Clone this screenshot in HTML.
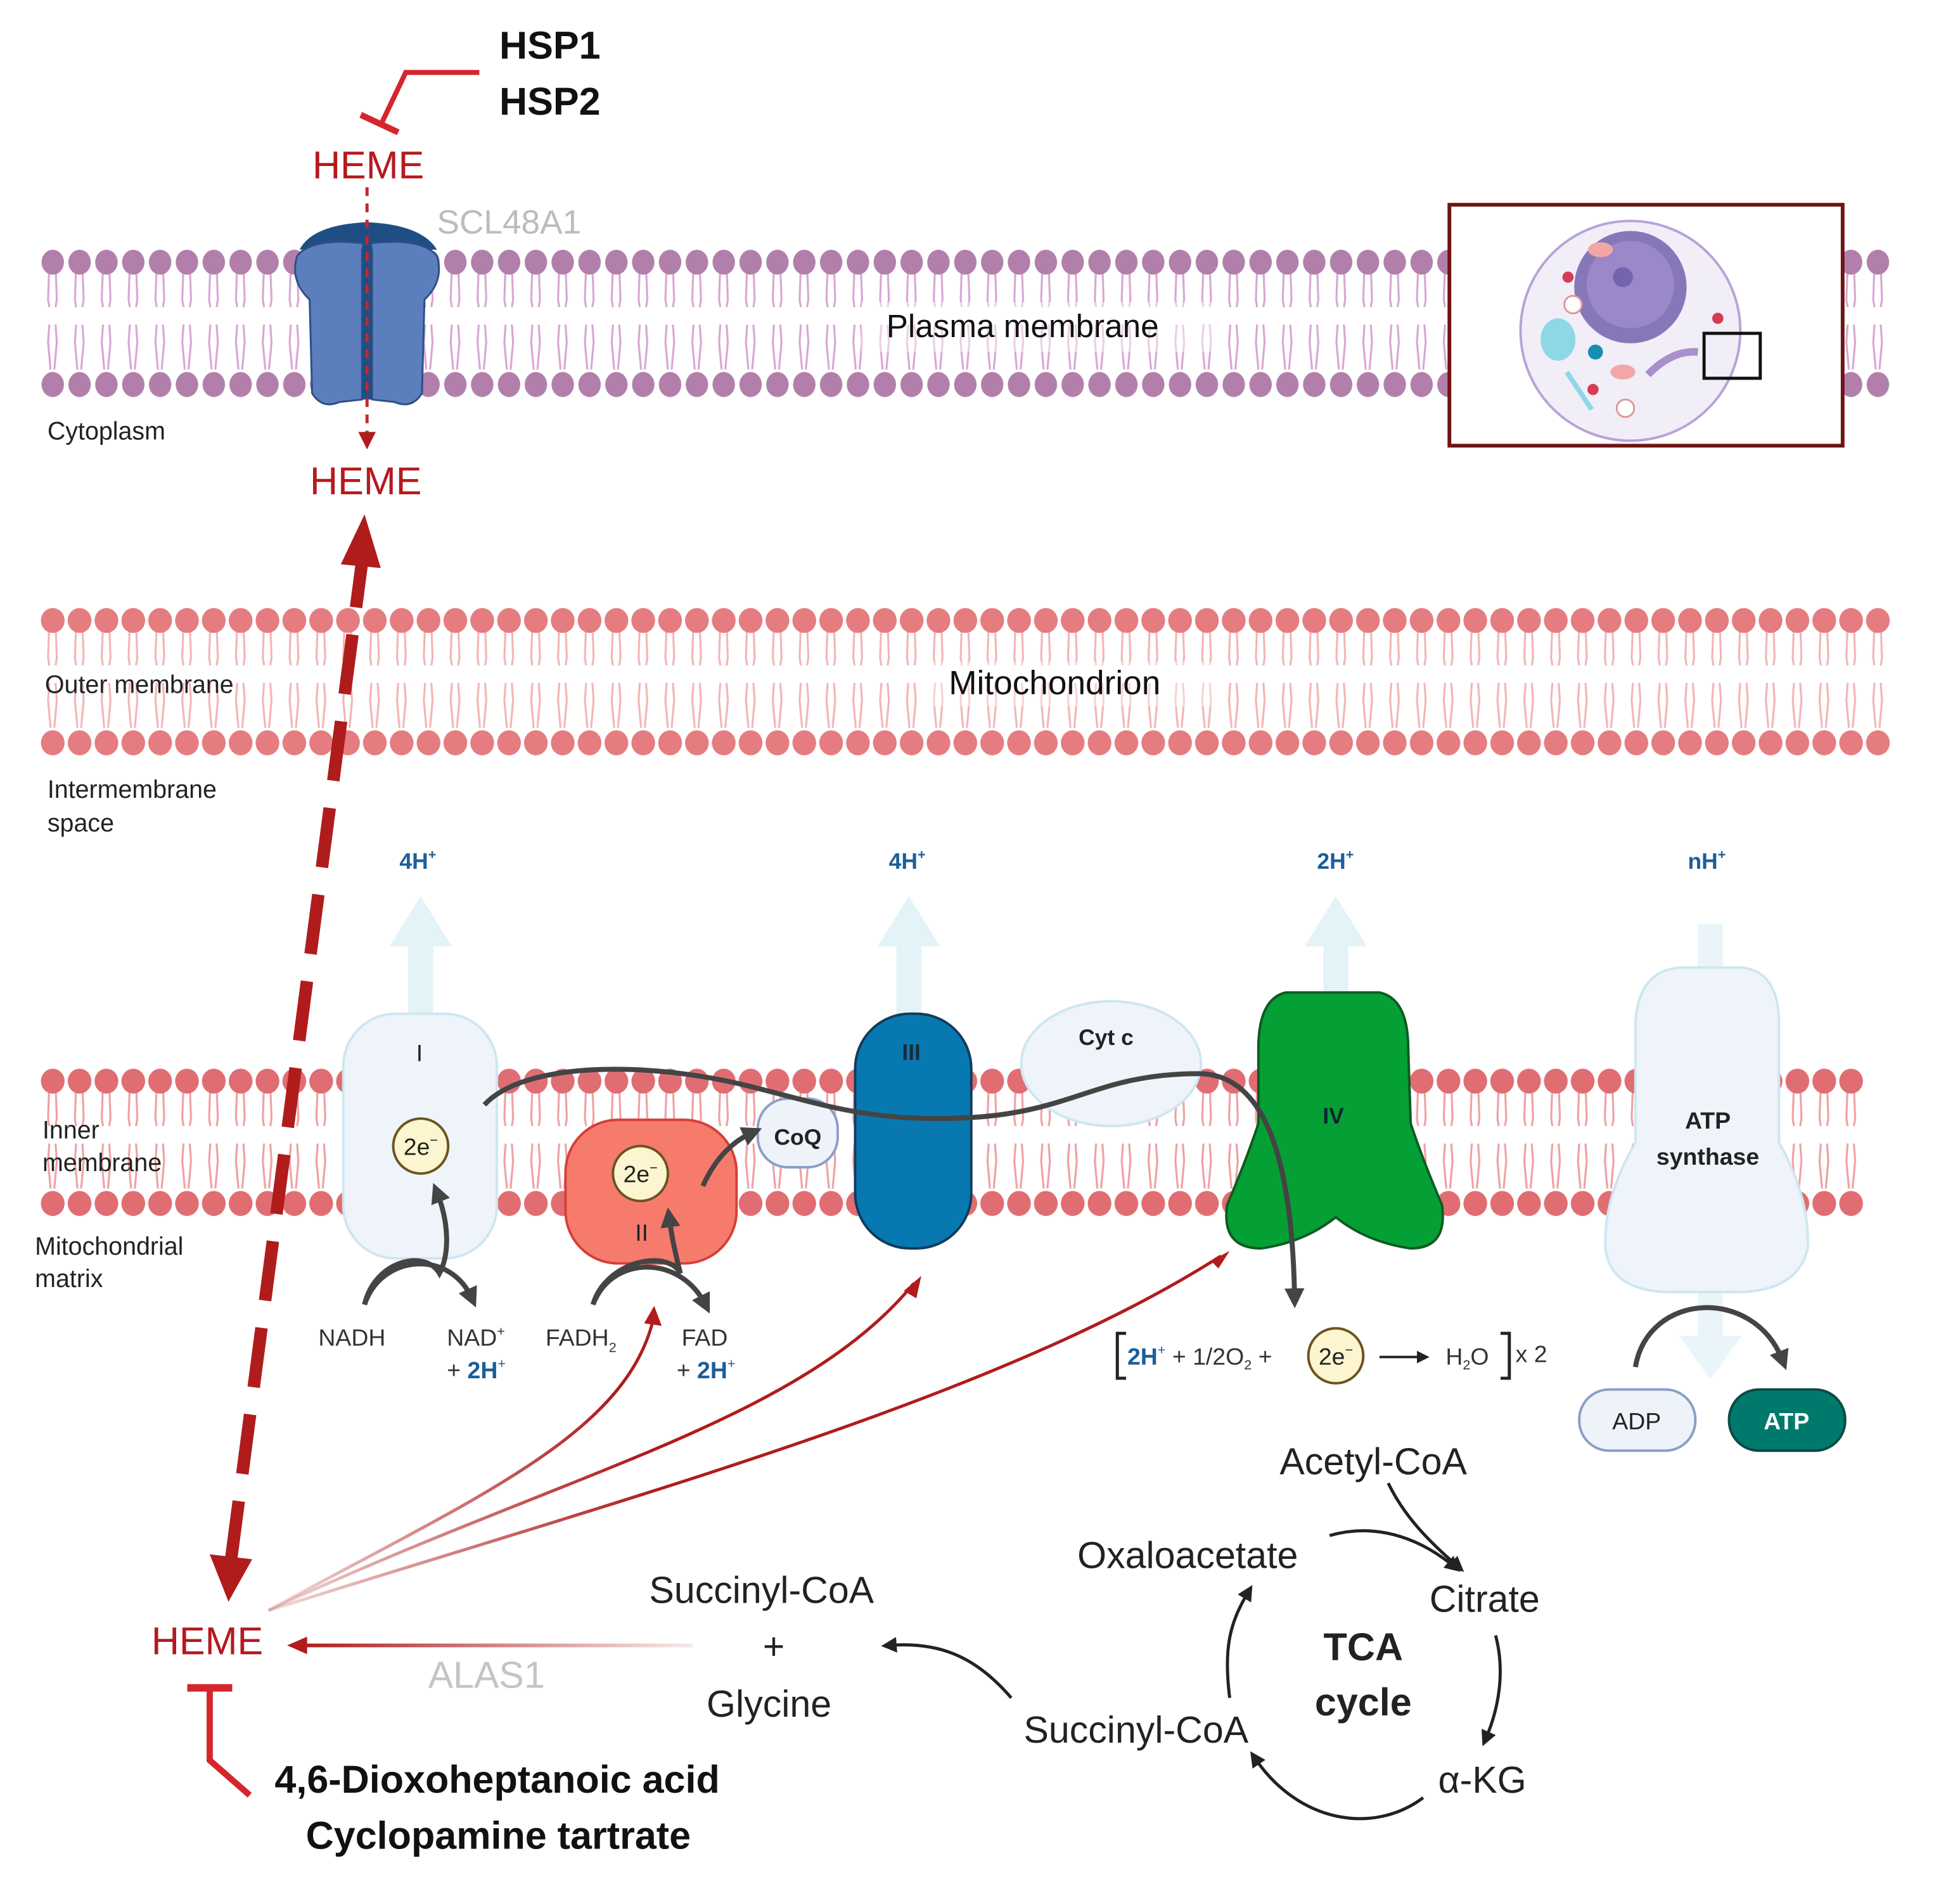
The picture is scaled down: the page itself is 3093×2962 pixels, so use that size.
<!DOCTYPE html>
<html><head><meta charset="utf-8"><style>
html,body{margin:0;padding:0;background:#fff}
svg{display:block}
text{font-family:"Liberation Sans",sans-serif}
</style></head><body>
<svg width="3093" height="2962" viewBox="0 0 1570 1503.5" xmlns="http://www.w3.org/2000/svg">
<defs>
<pattern id="pm" x="31.5" y="198" width="21.5" height="124" patternUnits="userSpaceOnUse">
 <g stroke="#d9a6d2" stroke-width="1.6" fill="none">
  <path d="M8 14 L7 42 L8 48 M13 14 L14 42 L13 48"/>
  <path d="M8 62 L7 76 L9 98 M13 62 L14 76 L12 98"/>
 </g>
 <ellipse cx="10.75" cy="12" rx="9" ry="10" fill="#b27fab"/>
 <ellipse cx="10.75" cy="110" rx="9" ry="10" fill="#b27fab"/>
</pattern>
<pattern id="om" x="31.5" y="485" width="21.5" height="124" patternUnits="userSpaceOnUse">
 <g stroke="#f3b5b5" stroke-width="1.6" fill="none">
  <path d="M8 14 L7 42 L8 48 M13 14 L14 42 L13 48"/>
  <path d="M8 62 L7 76 L9 98 M13 62 L14 76 L12 98"/>
 </g>
 <ellipse cx="10.75" cy="12" rx="9.5" ry="10" fill="#e57c80"/>
 <ellipse cx="10.75" cy="110" rx="9.5" ry="10" fill="#e57c80"/>
</pattern>
<pattern id="im" x="31.5" y="854" width="21.5" height="124" patternUnits="userSpaceOnUse">
 <g stroke="#f0a0a3" stroke-width="1.6" fill="none">
  <path d="M8 14 L7 42 L8 48 M13 14 L14 42 L13 48"/>
  <path d="M8 62 L7 76 L9 98 M13 62 L14 76 L12 98"/>
 </g>
 <ellipse cx="10.75" cy="12" rx="9.5" ry="10" fill="#e06d72"/>
 <ellipse cx="10.75" cy="110" rx="9.5" ry="10" fill="#e06d72"/>
</pattern>
<marker id="ag" viewBox="0 0 10 10" refX="5" refY="5" markerWidth="4" markerHeight="4" orient="auto"><path d="M0 0 L10 5 L0 10 Z" fill="#444"/></marker>
<marker id="ak" viewBox="0 0 10 10" refX="5" refY="5" markerWidth="5" markerHeight="5" orient="auto"><path d="M0 0 L10 5 L0 10 Z" fill="#222"/></marker>
<linearGradient id="fadeR" x1="242" y1="0" x2="555" y2="0" gradientUnits="userSpaceOnUse"><stop offset="0" stop-color="#b01c1c"/><stop offset="1" stop-color="#b01c1c" stop-opacity="0.1"/></linearGradient>
<linearGradient id="fadeD" x1="215" y1="1290" x2="500" y2="1150" gradientUnits="userSpaceOnUse"><stop offset="0" stop-color="#b01c1c" stop-opacity="0.15"/><stop offset="1" stop-color="#b01c1c"/></linearGradient>
</defs>

<!-- membranes -->
<rect x="31.5" y="198" width="1483" height="122" fill="url(#pm)"/>
<rect x="31.5" y="485" width="1483" height="122" fill="url(#om)"/>
<rect x="31.5" y="854" width="1462" height="122" fill="url(#im)"/>
<rect x="690" y="242" width="290" height="40" fill="#fff" opacity="0.45"/>
<rect x="740" y="530" width="240" height="36" fill="#fff" opacity="0.4"/>

<!-- inset -->
<rect x="1161" y="164" width="315" height="193" fill="#fff" stroke="#6e1414" stroke-width="3"/>
<ellipse cx="1306" cy="265" rx="88" ry="88" fill="#f2eef8" stroke="#b6a4d6" stroke-width="2"/>
<circle cx="1306" cy="230" r="45" fill="#6a5aa8" opacity="0.8"/>
<circle cx="1306" cy="228" r="35" fill="#9a88c8"/>
<circle cx="1300" cy="222" r="8" fill="#7563b0"/>
<ellipse cx="1248" cy="272" rx="14" ry="17" fill="#8ed8e6"/>
<circle cx="1278" cy="282" r="6" fill="#1590b0"/>
<circle cx="1260" cy="244" r="7" fill="#fff" stroke="#d99" stroke-width="1.5"/>
<circle cx="1302" cy="327" r="7" fill="#fff" stroke="#d99" stroke-width="1.5"/>
<circle cx="1256" cy="222" r="4.5" fill="#d43d55"/><circle cx="1276" cy="312" r="4.5" fill="#d43d55"/><circle cx="1376" cy="255" r="4.5" fill="#d43d55"/>
<ellipse cx="1282" cy="200" rx="10" ry="6" fill="#f1a7a7"/><ellipse cx="1300" cy="298" rx="10" ry="6" fill="#f1a7a7"/>
<path d="M1320 300 q20 -20 40 -18" stroke="#a890cc" stroke-width="6" fill="none"/>
<rect x="1365" y="267" width="45" height="36" fill="none" stroke="#111" stroke-width="2.5"/>
<path d="M1255 298 l20 30" stroke="#8ed8e6" stroke-width="4"/>

<!-- transporter SCL48A1 -->
<path d="M240 200 Q250 180 294 178 Q338 180 350 200 Z" fill="#1f4e85"/>
<path d="M292 195 Q250 190 238 205 Q232 225 248 240 L250 315 Q258 328 272 322 L290 320 L290 200 Z" fill="#5b7fbd" stroke="#2d4f86" stroke-width="1.5"/>
<path d="M296 195 Q338 190 350 205 Q356 225 340 240 L338 315 Q330 328 316 322 L298 320 L298 200 Z" fill="#5b7fbd" stroke="#2d4f86" stroke-width="1.5"/>
<rect x="290" y="192" width="8" height="128" fill="#1f4e85"/>
<line x1="294" y1="150" x2="294" y2="350" stroke="#c0282d" stroke-width="2.5" stroke-dasharray="7 6"/>
<path d="M287 346 L301 346 L294 360 Z" fill="#b01c1c"/>

<!-- top labels -->
<text x="400" y="47" font-size="31" font-weight="bold" fill="#111">HSP1</text>
<text x="400" y="92" font-size="31" font-weight="bold" fill="#111">HSP2</text>
<path d="M384 58 L325 58 L306 98" stroke="#d4262c" stroke-width="4" fill="none"/>
<line x1="289" y1="92" x2="319" y2="106" stroke="#d4262c" stroke-width="5"/>
<text x="295" y="143" font-size="31" fill="#b5191f" text-anchor="middle">HEME</text>
<text x="350" y="187" font-size="27" fill="#bcbcbc">SCL48A1</text>
<text x="710" y="270" font-size="26" fill="#111">Plasma membrane</text>
<text x="38" y="352" font-size="20" fill="#222">Cytoplasm</text>
<text x="293" y="396" font-size="31" fill="#b5191f" text-anchor="middle">HEME</text>

<text x="36" y="555" font-size="20" fill="#222">Outer membrane</text>
<text x="760" y="556" font-size="27" fill="#111">Mitochondrion</text>
<text x="38" y="639" font-size="20" fill="#222">Intermembrane</text>
<text x="38" y="666" font-size="20" fill="#222">space</text>
<text x="34" y="912" font-size="20" fill="#222">Inner</text>
<text x="34" y="938" font-size="20" fill="#222">membrane</text>
<text x="28" y="1005" font-size="20" fill="#222">Mitochondrial</text>
<text x="28" y="1031" font-size="20" fill="#222">matrix</text>

<!-- proton arrows -->
<g fill="#e3f3f8">
<path d="M327 830 L327 758 L312 758 L337 718 L362 758 L347 758 L347 830 Z"/>
<path d="M718 815 L718 758 L703 758 L728 718 L753 758 L738 758 L738 815 Z"/>
<path d="M1060 800 L1060 758 L1045 758 L1070 718 L1095 758 L1080 758 L1080 800 Z"/>
<path d="M1360 740 L1380 740 L1380 1070 L1395 1070 L1370 1105 L1345 1070 L1360 1070 Z" opacity="0.8"/>
</g>
<g font-size="18" font-weight="bold" fill="#1b5e9b">
<text x="320" y="696">4H<tspan font-size="11" dy="-8">+</tspan></text>
<text x="712" y="696">4H<tspan font-size="11" dy="-8">+</tspan></text>
<text x="1055" y="696">2H<tspan font-size="11" dy="-8">+</tspan></text>
<text x="1352" y="696">nH<tspan font-size="11" dy="-8">+</tspan></text>
</g>

<!-- complexes -->
<rect x="275" y="812" width="123" height="196" rx="42" fill="#eef4fa" stroke="#cfe6f0" stroke-width="2"/>
<text x="336" y="850" font-size="19" text-anchor="middle" fill="#222">I</text>
<rect x="453" y="897" width="137" height="115" rx="42" fill="#f77b6d" stroke="#d3403a" stroke-width="2"/>
<text x="514" y="994" font-size="19" text-anchor="middle" fill="#222">II</text>
<rect x="607" y="880" width="64" height="55" rx="24" fill="#eef3fa" stroke="#8b9ec8" stroke-width="2"/>
<text x="639" y="917" font-size="18" font-weight="bold" text-anchor="middle" fill="#222">CoQ</text>
<rect x="685" y="812" width="93" height="188" rx="44" fill="#0878b1" stroke="#123b5c" stroke-width="2"/>
<text x="730" y="849" font-size="18" font-weight="bold" text-anchor="middle" fill="#1a2a3a">III</text>
<ellipse cx="890" cy="852" rx="72" ry="50" fill="#eef4fa" stroke="#cfe6f0" stroke-width="2"/>
<text x="886" y="837" font-size="18" font-weight="bold" text-anchor="middle" fill="#222">Cyt c</text>
<path d="M1030 795 L1105 795 Q1128 800 1128 840 L1130 900 Q1140 930 1155 965 Q1160 1000 1130 1000 Q1095 995 1070 975 Q1045 995 1010 1000 Q978 1000 983 965 Q998 930 1008 900 L1008 840 Q1008 800 1030 795 Z" fill="#04a035" stroke="#0f5a22" stroke-width="2"/>
<text x="1068" y="900" font-size="18" font-weight="bold" text-anchor="middle" fill="#123">IV</text>
<path d="M1345 775 L1395 775 Q1425 778 1425 820 L1425 915 Q1450 960 1448 1000 Q1440 1035 1390 1035 L1340 1035 Q1290 1035 1286 1000 Q1284 960 1310 915 L1310 820 Q1312 778 1345 775 Z" fill="#eef4fa" stroke="#cfe6f0" stroke-width="2"/>
<text x="1368" y="904" font-size="19" font-weight="bold" text-anchor="middle" fill="#222">ATP</text>
<text x="1368" y="933" font-size="19" font-weight="bold" text-anchor="middle" fill="#222">synthase</text>

<!-- 2e- circles -->
<g font-size="19" text-anchor="middle" fill="#222">
<circle cx="337" cy="918" r="22" fill="#fdf5cf" stroke="#6b5420" stroke-width="2"/>
<text x="337" y="925">2e<tspan font-size="11" dy="-8">−</tspan></text>
<circle cx="513" cy="940" r="22" fill="#fdf5cf" stroke="#6b5420" stroke-width="2"/>
<text x="513" y="947">2e<tspan font-size="11" dy="-8">−</tspan></text>
</g>

<!-- electron path -->
<path d="M388 885 C420 850 520 850 600 870 C660 885 700 900 780 895 C860 890 880 860 960 860 C1010 860 1035 920 1037 1040" stroke="#444" stroke-width="4" fill="none" marker-end="url(#ag)"/>
<path d="M563 950 C572 930 585 915 603 907" stroke="#444" stroke-width="4" fill="none" marker-end="url(#ag)"/>
<path d="M292 1045 C300 1010 340 1000 352 1020 C360 1005 360 980 350 955" stroke="#444" stroke-width="4" fill="none" marker-end="url(#ag)"/>
<path d="M292 1045 C305 1005 360 1000 378 1040" stroke="#444" stroke-width="4" fill="none" marker-end="url(#ag)"/>
<path d="M475 1045 C485 1010 535 1000 545 1020 C540 1000 538 990 536 975" stroke="#444" stroke-width="4" fill="none" marker-end="url(#ag)"/>
<path d="M475 1045 C490 1005 545 1005 565 1045" stroke="#444" stroke-width="4" fill="none" marker-end="url(#ag)"/>
<path d="M1310 1095 C1320 1035 1405 1030 1428 1090" stroke="#444" stroke-width="4" fill="none" marker-end="url(#ag)"/>

<g font-size="19" fill="#333">
<text x="255" y="1078">NADH</text>
<text x="358" y="1078">NAD<tspan font-size="11" dy="-8">+</tspan></text>
<text x="358" y="1104">+ <tspan fill="#1b5e9b" font-weight="bold">2H</tspan><tspan fill="#1b5e9b" font-size="11" dy="-8">+</tspan></text>
<text x="437" y="1078">FADH<tspan font-size="11" dy="5">2</tspan></text>
<text x="546" y="1078">FAD</text>
<text x="542" y="1104">+ <tspan fill="#1b5e9b" font-weight="bold">2H</tspan><tspan fill="#1b5e9b" font-size="11" dy="-8">+</tspan></text>
</g>

<!-- equation -->
<path d="M902 1068 L895 1068 L895 1104 L902 1104" stroke="#222" stroke-width="2.5" fill="none"/>
<text x="903" y="1093" font-size="19" fill="#333"><tspan fill="#1b5e9b" font-weight="bold">2H</tspan><tspan fill="#1b5e9b" font-size="11" dy="-8">+</tspan><tspan dy="8"> + 1/2O</tspan><tspan font-size="11" dy="4">2</tspan><tspan dy="-4"> +</tspan></text>
<circle cx="1070" cy="1086" r="22" fill="#fdf5cf" stroke="#6b5420" stroke-width="2"/>
<text x="1070" y="1093" font-size="19" text-anchor="middle" fill="#222">2e<tspan font-size="11" dy="-8">−</tspan></text>
<line x1="1105" y1="1087" x2="1140" y2="1087" stroke="#222" stroke-width="2" marker-end="url(#ak)"/>
<text x="1158" y="1093" font-size="19" fill="#333">H<tspan font-size="11" dy="4">2</tspan><tspan dy="-4">O</tspan></text>
<path d="M1202 1068 L1209 1068 L1209 1104 L1202 1104" stroke="#222" stroke-width="2.5" fill="none"/>
<text x="1214" y="1091" font-size="19" fill="#333">x 2</text>

<!-- ADP ATP -->
<rect x="1265" y="1113" width="93" height="49" rx="24" fill="#eef3fa" stroke="#8b9ec8" stroke-width="2"/>
<text x="1311" y="1145" font-size="19" text-anchor="middle" fill="#222">ADP</text>
<rect x="1385" y="1113" width="93" height="49" rx="24" fill="#00796d" stroke="#0b4a42" stroke-width="2"/>
<text x="1431" y="1145" font-size="19" font-weight="bold" text-anchor="middle" fill="#fff">ATP</text>

<!-- TCA -->
<g font-size="30" fill="#222">
<text x="1025" y="1181">Acetyl-CoA</text>
<text x="863" y="1256">Oxaloacetate</text>
<text x="1145" y="1291">Citrate</text>
<text x="1152" y="1436">α-KG</text>
<text x="820" y="1396">Succinyl-CoA</text>
<text x="520" y="1284">Succinyl-CoA</text>
<text x="611" y="1329">+</text>
<text x="566" y="1375">Glycine</text>
</g>
<text x="1092" y="1330" font-size="31" font-weight="bold" text-anchor="middle" fill="#222">TCA</text>
<text x="1092" y="1374" font-size="31" font-weight="bold" text-anchor="middle" fill="#222">cycle</text>
<g stroke="#222" stroke-width="2.5" fill="none" marker-end="url(#ak)">
<path d="M1112 1188 C1125 1215 1145 1235 1168 1255"/>
<path d="M1065 1230 C1100 1220 1135 1230 1165 1255"/>
<path d="M1198 1310 C1206 1340 1200 1370 1190 1393"/>
<path d="M1140 1440 C1100 1470 1040 1460 1005 1408"/>
<path d="M985 1360 C980 1320 985 1300 1000 1275"/>
<path d="M810 1360 C780 1325 750 1315 712 1318"/>
</g>

<!-- ALAS1 arrow -->
<line x1="555" y1="1318" x2="242" y2="1318" stroke="url(#fadeR)" stroke-width="3"/>
<path d="M246 1311 L230 1318 L246 1325 Z" fill="#b01c1c"/>
<text x="343" y="1352" font-size="30" fill="#c4c4c4">ALAS1</text>
<text x="166" y="1325" font-size="31" fill="#b5191f" text-anchor="middle">HEME</text>

<!-- inhibitor bottom -->
<line x1="150" y1="1352" x2="186" y2="1352" stroke="#d4262c" stroke-width="6"/>
<path d="M168 1352 L168 1410 L200 1438" stroke="#d4262c" stroke-width="5" fill="none"/>
<text x="220" y="1436" font-size="31" font-weight="bold" fill="#111">4,6-Dioxoheptanoic acid</text>
<text x="245" y="1481" font-size="31" font-weight="bold" fill="#111">Cyclopamine tartrate</text>

<!-- red curved arrows -->
<g fill="none" stroke-width="2.5" stroke="url(#fadeD)">
<path d="M215 1290 C380 1200 500 1150 523 1058"/>
<path d="M215 1290 C450 1180 640 1140 732 1028"/>
<path d="M215 1290 C500 1200 800 1120 978 1006"/>
</g>
<path d="M516 1060 L524 1046 L530 1062 Z" fill="#b01c1c"/>
<path d="M724 1034 L738 1022 L734 1040 Z" fill="#b01c1c"/>
<path d="M970 1010 L985 1002 L976 1016 Z" fill="#b01c1c"/>

<!-- big dashed arrow -->
<line x1="185" y1="1250" x2="290" y2="450" stroke="#b01c1c" stroke-width="10" stroke-dasharray="48 22"/>
<path d="M273 452 L292 412 L305 455 Z" fill="#b01c1c"/>
<path d="M168 1245 L183 1283 L202 1249 Z" fill="#b01c1c"/>
</svg>
</body></html>
